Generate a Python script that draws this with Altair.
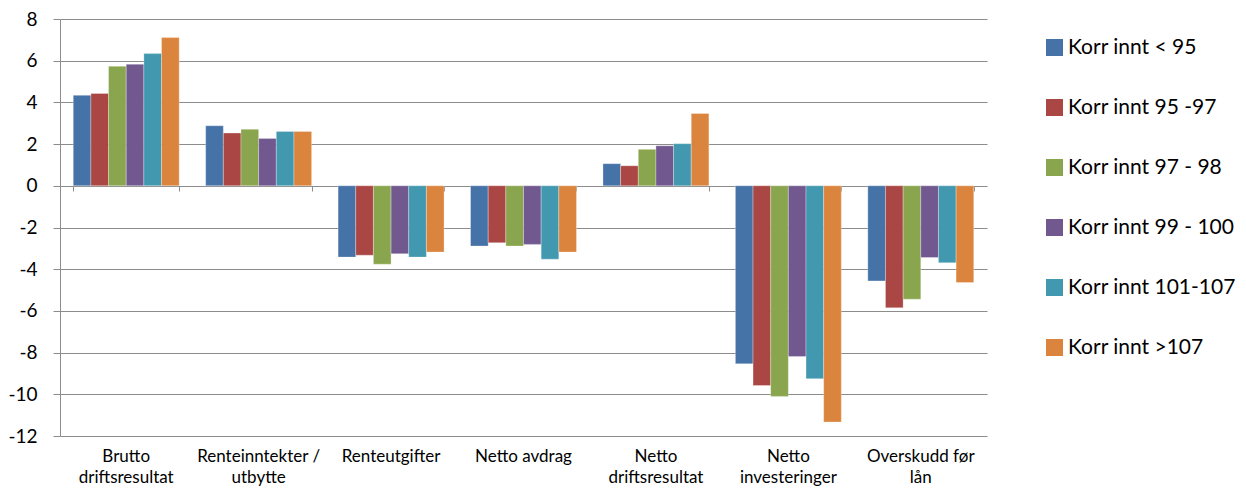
import altair as alt
import pandas as pd

categories = [
    "Brutto\ndriftsresultat",
    "Renteinntekter /\nutbytte",
    "Renteutgifter",
    "Netto avdrag",
    "Netto\ndriftsresultat",
    "Netto\ninvesteringer",
    "Overskudd før\nlån",
]
series = [
    "Korr innt < 95",
    "Korr innt 95 -97",
    "Korr innt 97 - 98",
    "Korr innt 99 - 100",
    "Korr innt 101-107",
    "Korr innt >107",
]
colors = ["#4572A7", "#AA4643", "#89A54E", "#71588F", "#4198AF", "#DB843D"]

v_lt95 = [4.34, 2.88, -3.42, -2.89, 1.06, -8.54, -4.56]
v_95_97 = [4.43, 2.53, -3.33, -2.73, 0.96, -9.58, -5.85]
v_97_98 = [5.73, 2.71, -3.76, -2.89, 1.75, -10.10, -5.44]
v_99_100 = [5.83, 2.27, -3.26, -2.81, 1.92, -8.19, -3.44]
v_101_107 = [6.34, 2.61, -3.42, -3.52, 2.02, -9.25, -3.69]
v_gt107 = [7.11, 2.61, -3.18, -3.18, 3.47, -11.33, -4.64]

values = [v_lt95, v_95_97, v_97_98, v_99_100, v_101_107, v_gt107]
rows = []
for s, vals in zip(series, values):
    for c, v in zip(categories, vals):
        rows.append({"cat": c, "series": s, "value": v})
df = pd.DataFrame(rows)

FONT = "Lato"
GRID = "#8c8c8c"

xscale = alt.Scale(domain=categories, paddingInner=0.2, paddingOuter=0.1)
yscale = alt.Scale(domain=[-12, 8], nice=False)

bars = alt.Chart(df).mark_bar(stroke="white", strokeWidth=0.6, strokeOpacity=0.5).encode(
    x=alt.X(
        "cat:N",
        sort=categories,
        scale=xscale,
        axis=alt.Axis(
            title=None, labelAngle=0, domain=False, ticks=False,
            labelExpr="split(datum.label, '\\n')",
            labelFont=FONT, labelFontSize=17, labelColor="#000000",
            labelPadding=12, labelLineHeight=21, labelBaseline="top",
        ),
    ),
    xOffset=alt.XOffset("series:N", sort=series, scale=alt.Scale(paddingInner=0, paddingOuter=0)),
    y=alt.Y(
        "value:Q",
        scale=yscale,
        axis=alt.Axis(
            title=None, values=list(range(-12, 9, 2)), grid=True, gridColor=GRID,
            gridWidth=1, domainColor=GRID, tickColor=GRID, tickSize=7,
            labelExpr="toString(datum.value)",
            labelFont=FONT, labelFontSize=19, labelColor="#000000", labelPadding=16,
        ),
    ),
    color=alt.Color(
        "series:N",
        sort=series,
        scale=alt.Scale(domain=series, range=colors),
        legend=alt.Legend(
            title=None, orient="none", legendX=984, legendY=18,
            symbolType="square", symbolSize=289, symbolStrokeWidth=0,
            symbolOpacity=1, labelFont=FONT, labelFontSize=21, labelColor="#000000",
            labelOffset=3, rowPadding=38, padding=0, labelLimit=300,
        ),
    ),
)

zero_ticks = alt.Chart(df).mark_rule(color=GRID, strokeWidth=1).encode(
    x=alt.X(
        "cat:N",
        sort=categories,
        scale=xscale,
        axis=alt.Axis(
            orient="bottom", offset=-250, labels=False, tickBand="extent",
            ticks=True, tickSize=5, tickColor=GRID, domain=False, title=None,
        ),
    ),
    y=alt.datum(0, scale=yscale),
    opacity=alt.value(0),
)

chart = (
    alt.layer(bars, zero_ticks)
    .resolve_axis(x="independent")
    .properties(
        width=927,
        height=417,
        autosize=alt.AutoSizeParams(type="none"),
        padding={"left": 52, "top": 11, "right": 251, "bottom": 50},
    )
    .configure_view(stroke=None)
)

chart.save("out.html", embed_options={"renderer": "svg", "actions": False})
